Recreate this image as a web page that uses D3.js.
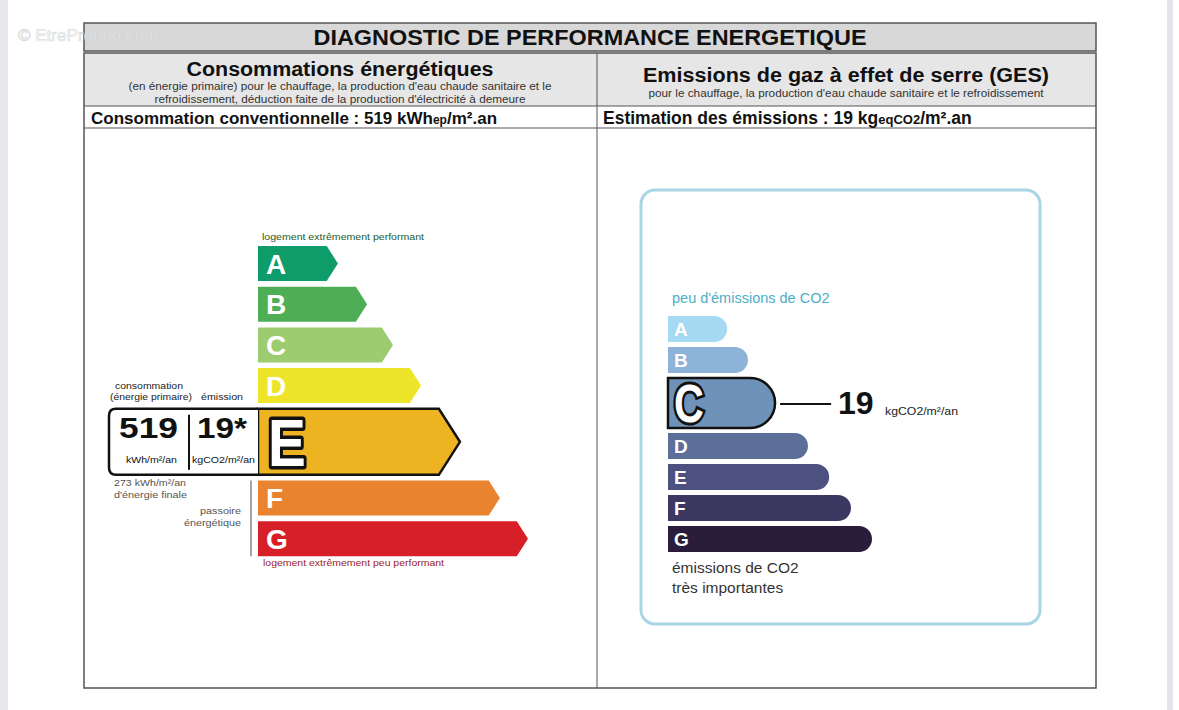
<!DOCTYPE html>
<html>
<head>
<meta charset="utf-8">
<script src="https://cdn.jsdelivr.net/npm/d3@7"></script>
<style>
  body { margin: 0; background: #fff; }
  svg { display: block; font-family: "Liberation Sans", Arial, sans-serif; }
</style>
</head>
<body>
<div id="dpe"></div>
<script>
// energy label (DPE)
const dpeClasses = ["A", "B", "C", "D", "E", "F", "G"];
const dpeColors = ["#0e9c6a", "#4eae55", "#9ccb70", "#eee52a", "#edb321", "#e9832f", "#d71f27"];
const dpeLengths = [29.6, 40.4, 50, 60.4, 74.8, 89.6, 100];
const dpeActive = "E";
const consumption = 519;
const finalEnergy = 273;

// greenhouse gas label (GES)
const gesClasses = ["A", "B", "C", "D", "E", "F", "G"];
const gesColors = ["#a6d9f2", "#8db3d8", "#6f93b8", "#5c6f98", "#4c5180", "#3c3862", "#2a1d3c"];
const gesLengths = [29, 39.2, 52.5, 68.6, 79, 89.7, 100];
const gesActive = "C";
const emission = 19;

const W = 1179, H = 710;
const svg = d3.select("#dpe").append("svg").attr("width", W).attr("height", H);

// page edges
svg.append("rect").attr("x", 0).attr("y", 0).attr("width", 8).attr("height", H).attr("fill", "#e9e6ec");
svg.append("rect").attr("x", 1167).attr("y", 0).attr("width", 6).attr("height", H).attr("fill", "#e6e2ea");

// ---- table frame ----
const left = 84, right = 1096, mid = 597;
svg.append("rect").attr("x", left).attr("y", 23).attr("width", right - left).attr("height", 28)
  .attr("fill", "#d8d8d8").attr("stroke", "#555").attr("stroke-width", 1.5);
svg.append("text").attr("x", (left + right) / 2).attr("y", 45).attr("text-anchor", "middle")
  .attr("font-size", 22).attr("font-weight", "bold").attr("fill", "#111")
  .attr("textLength", 553).attr("lengthAdjust", "spacingAndGlyphs")
  .text("DIAGNOSTIC DE PERFORMANCE ENERGETIQUE");

svg.append("rect").attr("x", left).attr("y", 53).attr("width", right - left).attr("height", 53)
  .attr("fill", "#e6e6e6");
svg.append("rect").attr("x", left).attr("y", 106).attr("width", right - left).attr("height", 22)
  .attr("fill", "#fff");
svg.append("rect").attr("x", left).attr("y", 53).attr("width", right - left).attr("height", 635)
  .attr("fill", "none").attr("stroke", "#555").attr("stroke-width", 1.5);
svg.append("line").attr("x1", left).attr("x2", right).attr("y1", 106).attr("y2", 106).attr("stroke", "#555");
svg.append("line").attr("x1", left).attr("x2", right).attr("y1", 128).attr("y2", 128).attr("stroke", "#555");
svg.append("line").attr("x1", mid).attr("x2", mid).attr("y1", 53).attr("y2", 688).attr("stroke", "#555");

function head(x, y, size, bold, txt, len, anchor) {
  const t = svg.append("text").attr("x", x).attr("y", y).attr("font-size", size)
    .attr("fill", "#111").attr("text-anchor", anchor || "middle");
  if (bold) t.attr("font-weight", "bold");
  if (len) t.attr("textLength", len).attr("lengthAdjust", "spacingAndGlyphs");
  return t.text(txt);
}
head(340, 76, 20, true, "Consommations énergétiques", 307);
head(340, 90, 10, false, "(en énergie primaire) pour le chauffage, la production d'eau chaude sanitaire et le", 423).attr("fill", "#333");
head(340, 103, 10, false, "refroidissement, déduction faite de la production d'électricité à demeure", 371).attr("fill", "#333");
head(846, 82, 20, true, "Emissions de gaz à effet de serre (GES)", 406);
head(846, 97, 10, false, "pour le chauffage, la production d'eau chaude sanitaire et le refroidissement", 395).attr("fill", "#333");

const c1 = head(91, 124, 17, true, null, null, "start");
c1.append("tspan").text("Consommation conventionnelle : " + consumption + " kWh");
c1.append("tspan").attr("font-size", 12).text("ep");
c1.append("tspan").text("/m².an");
const c2 = head(603, 124, 17.5, true, null, null, "start");
c2.append("tspan").text("Estimation des émissions : " + emission + " kg");
c2.append("tspan").attr("font-size", 13).text("eqCO2");
c2.append("tspan").text("/m².an");

// ---- DPE label ----
function rowPositions(classes, active, top, h, hActive, gap) {
  const pos = {};
  let y = top;
  classes.forEach(c => {
    const hh = c === active ? hActive : h;
    pos[c] = { y: y, h: hh };
    y += hh + gap;
  });
  return pos;
}

const dpeX0 = 258;
const dpeX = d3.scaleLinear().domain([0, 100]).range([0, 270]);
const dpeRows = rowPositions(dpeClasses, dpeActive, 246, 35, 66, 5.7);

const dpe = svg.append("g");
dpe.append("text").attr("x", 262).attr("y", 240).attr("font-size", 9).attr("fill", "#1f5a2a")
  .attr("textLength", 162).attr("lengthAdjust", "spacingAndGlyphs")
  .text("logement extrêmement performant");

dpe.selectAll("path.bar").data(dpeClasses).join("path")
  .attr("class", "bar")
  .attr("d", (c, i) => {
    const r = dpeRows[c], x1 = dpeX0 + dpeX(dpeLengths[i]), tip = r.h * 0.32;
    return `M${dpeX0},${r.y}H${x1 - tip}L${x1},${r.y + r.h / 2}L${x1 - tip},${r.y + r.h}H${dpeX0}Z`;
  })
  .attr("fill", (c, i) => dpeColors[i])
  .attr("stroke", c => c === dpeActive ? "#111" : "none")
  .attr("stroke-width", 2.5);

dpe.selectAll("text.letter").data(dpeClasses.filter(c => c !== dpeActive)).join("text")
  .attr("class", "letter")
  .attr("x", 266).attr("y", c => dpeRows[c].y + dpeRows[c].h / 2 + 10)
  .attr("font-size", 28).attr("font-weight", "bold").attr("fill", "#fff")
  .text(c => c);

const er = dpeRows[dpeActive];
dpe.append("text")
  .attr("transform", `translate(268,${er.y + er.h / 2 + 24}) scale(0.86,1)`)
  .attr("font-size", 66).attr("font-weight", "bold").attr("fill", "#fff")
  .attr("stroke", "#111").attr("stroke-width", 7).attr("paint-order", "stroke")
  .attr("stroke-linejoin", "round")
  .text(dpeActive);

// value box on the left of the active class
const bx = 109, by = er.y, bh = er.h;
dpe.append("path")
  .attr("d", `M${dpeX0},${by}H${bx + 7}Q${bx},${by} ${bx},${by + 7}V${by + bh - 7}Q${bx},${by + bh} ${bx + 7},${by + bh}H${dpeX0}`)
  .attr("fill", "#fff").attr("stroke", "#111").attr("stroke-width", 2.5);
dpe.append("line").attr("x1", 189).attr("x2", 189).attr("y1", by + 6).attr("y2", by + bh - 5)
  .attr("stroke", "#111").attr("stroke-width", 2);
dpe.append("text").attr("x", 119).attr("y", by + 29).attr("font-size", 30).attr("font-weight", "bold")
  .attr("fill", "#111").attr("textLength", 59).attr("lengthAdjust", "spacingAndGlyphs").text(consumption);
dpe.append("text").attr("x", 197).attr("y", by + 29).attr("font-size", 30).attr("font-weight", "bold")
  .attr("fill", "#111").attr("textLength", 50).attr("lengthAdjust", "spacingAndGlyphs").text(emission + "*");
dpe.append("text").attr("x", 126).attr("y", by + 54).attr("font-size", 9).attr("fill", "#111")
  .attr("textLength", 51).attr("lengthAdjust", "spacingAndGlyphs").text("kWh/m²/an");
dpe.append("text").attr("x", 192).attr("y", by + 54).attr("font-size", 9).attr("fill", "#111")
  .attr("textLength", 63).attr("lengthAdjust", "spacingAndGlyphs").text("kgCO2/m²/an");

const small = (x, y, txt, anchor, len, col) => dpe.append("text").attr("x", x).attr("y", y)
  .attr("font-size", 9.5).attr("fill", col || "#222").attr("text-anchor", anchor || "start")
  .attr("textLength", len).attr("lengthAdjust", "spacingAndGlyphs").text(txt);
small(115, 389, "consommation", "start", 68);
small(110, 400, "(énergie primaire)", "start", 82);
small(201, 400, "émission", "start", 42);
small(114, 486, finalEnergy + " kWh/m²/an", "start", 72, "#555");
small(114, 498, "d'énergie finale", "start", 73, "#555");
small(241, 514, "passoire", "end", 41, "#555");
small(241, 526, "énergétique", "end", 57, "#555");
dpe.append("line").attr("x1", 251).attr("x2", 251)
  .attr("y1", dpeRows.F.y).attr("y2", dpeRows.G.y + dpeRows.G.h)
  .attr("stroke", "#888").attr("stroke-width", 1.5);
dpe.append("text").attr("x", 263).attr("y", 566).attr("font-size", 9).attr("fill", "#a11c1c")
  .attr("textLength", 181).attr("lengthAdjust", "spacingAndGlyphs")
  .text("logement extrêmement peu performant");

// ---- GES label ----
const ges = svg.append("g");
ges.append("rect").attr("x", 641).attr("y", 190).attr("width", 399).attr("height", 434).attr("rx", 14)
  .attr("fill", "#fff").attr("stroke", "#a9d6e6").attr("stroke-width", 3);
ges.append("text").attr("x", 672).attr("y", 303).attr("font-size", 14.5).attr("fill", "#4caec6")
  .text("peu d'émissions de CO2");

const gesX0 = 668;
const gesX = d3.scaleLinear().domain([0, 100]).range([0, 204]);
const gesRows = rowPositions(gesClasses, gesActive, 316, 26, 50, 5);

ges.selectAll("path.bar").data(gesClasses).join("path")
  .attr("class", "bar")
  .attr("d", (c, i) => {
    const r = gesRows[c], x1 = gesX0 + gesX(gesLengths[i]), rad = r.h / 2;
    return `M${gesX0},${r.y}H${x1 - rad}A${rad},${rad} 0 0 1 ${x1 - rad},${r.y + r.h}H${gesX0}Z`;
  })
  .attr("fill", (c, i) => gesColors[i])
  .attr("stroke", c => c === gesActive ? "#111" : "none")
  .attr("stroke-width", 2.5);

ges.selectAll("text.letter").data(gesClasses.filter(c => c !== gesActive)).join("text")
  .attr("class", "letter")
  .attr("x", 674).attr("y", c => gesRows[c].y + gesRows[c].h / 2 + 7)
  .attr("font-size", 19).attr("font-weight", "bold").attr("fill", "#fff")
  .text(c => c);

const gr = gesRows[gesActive];
ges.append("text")
  .attr("transform", `translate(674,${gr.y + gr.h / 2 + 19}) scale(0.78,1)`)
  .attr("font-size", 53).attr("font-weight", "bold").attr("fill", "#fff")
  .attr("stroke", "#111").attr("stroke-width", 6).attr("paint-order", "stroke")
  .text(gesActive);

const gEnd = gesX0 + gesX(gesLengths[gesClasses.indexOf(gesActive)]);
ges.append("line").attr("x1", gEnd + 5).attr("x2", gEnd + 56)
  .attr("y1", gr.y + gr.h / 2 + 1).attr("y2", gr.y + gr.h / 2 + 1)
  .attr("stroke", "#111").attr("stroke-width", 2);
ges.append("text").attr("x", 838).attr("y", gr.y + gr.h / 2 + 11).attr("font-size", 32)
  .attr("font-weight", "bold").attr("fill", "#111").text(emission);
ges.append("text").attr("x", 885).attr("y", gr.y + gr.h / 2 + 12).attr("font-size", 11.5)
  .attr("fill", "#222").attr("textLength", 73).attr("lengthAdjust", "spacingAndGlyphs")
  .text("kgCO2/m²/an");

ges.append("text").attr("x", 672).attr("y", 573).attr("font-size", 15.5).attr("fill", "#333")
  .text("émissions de CO2");
ges.append("text").attr("x", 672).attr("y", 593).attr("font-size", 15.5).attr("fill", "#333")
  .text("très importantes");

// faint watermark on top
svg.append("text").attr("x", 18).attr("y", 41).attr("font-size", 17)
  .attr("fill", "#f4f4f4").attr("fill-opacity", 0.6).attr("stroke", "#cfcfcf")
  .attr("stroke-width", 0.7).attr("stroke-opacity", 0.7)
  .text("© EtreProprio.com");
</script>
</body>
</html>
